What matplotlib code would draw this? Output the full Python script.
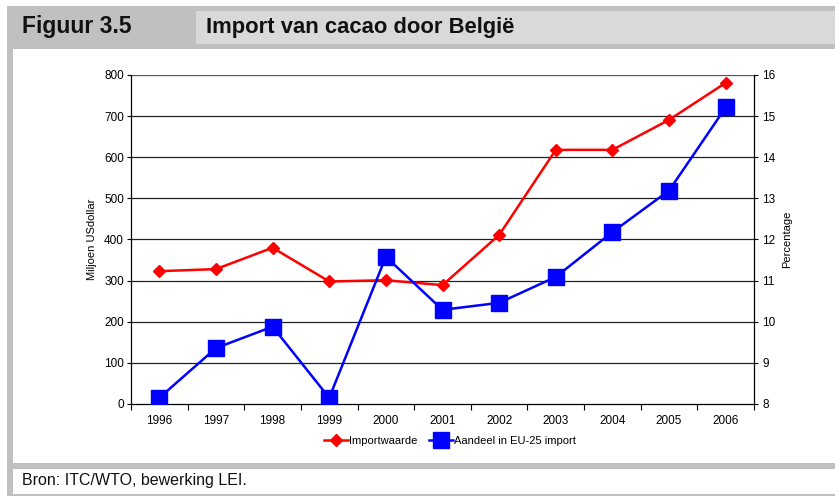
import matplotlib
matplotlib.use("Agg")
import matplotlib.pyplot as plt
from matplotlib.patches import Rectangle
from matplotlib.lines import Line2D

years = ["1996", "1997", "1998", "1999", "2000", "2001", "2002", "2003", "2004", "2005", "2006"]
import_value = [323, 328, 380, 298, 301, 289, 411, 618, 618, 691, 781]
eu_share = [8.15, 9.36, 9.88, 8.15, 11.58, 10.29, 10.46, 11.09, 12.18, 13.19, 15.21]
left_ticks = [0, 100, 200, 300, 400, 500, 600, 700, 800]
right_ticks = [8, 9, 10, 11, 12, 13, 14, 15, 16]

W, H = 835, 496
fig = plt.figure(figsize=(W / 100, H / 100), dpi=100)
fig.patch.set_facecolor("white")

narrow = ["Liberation Sans Narrow", "Liberation Sans", "DejaVu Sans"]
sans = ["Liberation Sans", "DejaVu Sans"]

# background frame
bg = fig.add_axes([0, 0, 1, 1], zorder=0)
bg.set_xlim(0, W)
bg.set_ylim(H, 0)
bg.axis("off")
gray = "#c0c0c0"
light = "#d9d9d9"
bg.add_patch(Rectangle((7, 6), W - 7, 43, color=gray, lw=0))
bg.add_patch(Rectangle((196, 11), W - 196, 33, color=light, lw=0))
bg.add_patch(Rectangle((7, 6), 6, H - 6, color=gray, lw=0))
bg.add_patch(Rectangle((7, 463), W - 7, 6, color=gray, lw=0))
bg.add_patch(Rectangle((7, 494), W - 7, 2, color=gray, lw=0))
bg.text(22, 27, "Figuur 3.5", fontsize=16.5, fontweight="bold", family=narrow,
        va="center", ha="left", color="#111111")
bg.text(206, 27, "Import van cacao door België", fontsize=15.8, fontweight="bold",
        family=narrow, va="center", ha="left", color="#111111")
bg.text(22, 481, "Bron: ITC/WTO, bewerking LEI.", fontsize=11.5, family=narrow,
        va="center", ha="left", color="#111111")

# main chart
x0, x1, ytop, ybot = 131, 754, 75, 404
ax = fig.add_axes([x0 / W, (H - ybot) / H, (x1 - x0) / W, (ybot - ytop) / H], zorder=2)
ax.patch.set_alpha(0)
xs = [i + 0.5 for i in range(len(years))]
ax.set_xlim(0, len(years))
ax.set_ylim(0, 800)
for v in left_ticks[1:]:
    ax.axhline(v, color="#222222" if v < 800 else "#555555", lw=0.9, zorder=1)
ax.plot(xs, import_value, color="#ff0000", lw=1.8, marker="D", ms=6,
        markeredgecolor="#ff0000", zorder=3)
ax.set_yticks(left_ticks)
ax.set_xticks(range(len(years) + 1))
ax.set_xticklabels([])
ax.set_xticks(xs, minor=True)
ax.set_xticklabels(years, minor=True)
ax.tick_params(axis="x", which="major", length=4, direction="out", width=0.8)
ax.tick_params(axis="x", which="minor", length=0, pad=8)
ax.tick_params(axis="y", length=3, direction="out", width=0.8, pad=2)
for lab in ax.get_xticklabels(minor=True) + ax.get_yticklabels():
    lab.set_fontsize(8.5)
    lab.set_family(sans)
ax.spines["top"].set_visible(False)
ax.spines["right"].set_visible(False)
for s in ("left", "bottom"):
    ax.spines[s].set_linewidth(0.9)
ax.set_ylabel("Miljoen USdollar", fontsize=8, family=sans, labelpad=5)

ax2 = ax.twinx()
ax2.set_zorder(3)
ax2.patch.set_alpha(0)
ax2.set_ylim(8, 16)
ax2.plot(xs, eu_share, color="#0000ff", lw=1.8, marker="s", ms=11,
         markeredgecolor="#0000ff", zorder=3)
ax2.set_yticks(right_ticks)
ax2.tick_params(axis="y", length=3, direction="out", width=0.8, pad=3)
for lab in ax2.get_yticklabels():
    lab.set_fontsize(8.5)
    lab.set_family(sans)
for s in ("top", "left", "bottom"):
    ax2.spines[s].set_visible(False)
ax2.spines["right"].set_linewidth(0.9)
ax2.set_ylabel("Percentage", fontsize=8, family=sans, labelpad=5)

handles = [
    Line2D([], [], color="#ff0000", lw=1.8, marker="D", ms=6),
    Line2D([], [], color="#0000ff", lw=1.8, marker="s", ms=11),
]
fig.legend(handles, ["Importwaarde", "Aandeel in EU-25 import"],
           loc="center", bbox_to_anchor=(450 / W, (H - 441) / H), ncol=2,
           frameon=False, prop={"family": sans, "size": 8},
           handlelength=2.2, handletextpad=0.1, columnspacing=1.0)

fig.savefig("out.png", dpi=100)
